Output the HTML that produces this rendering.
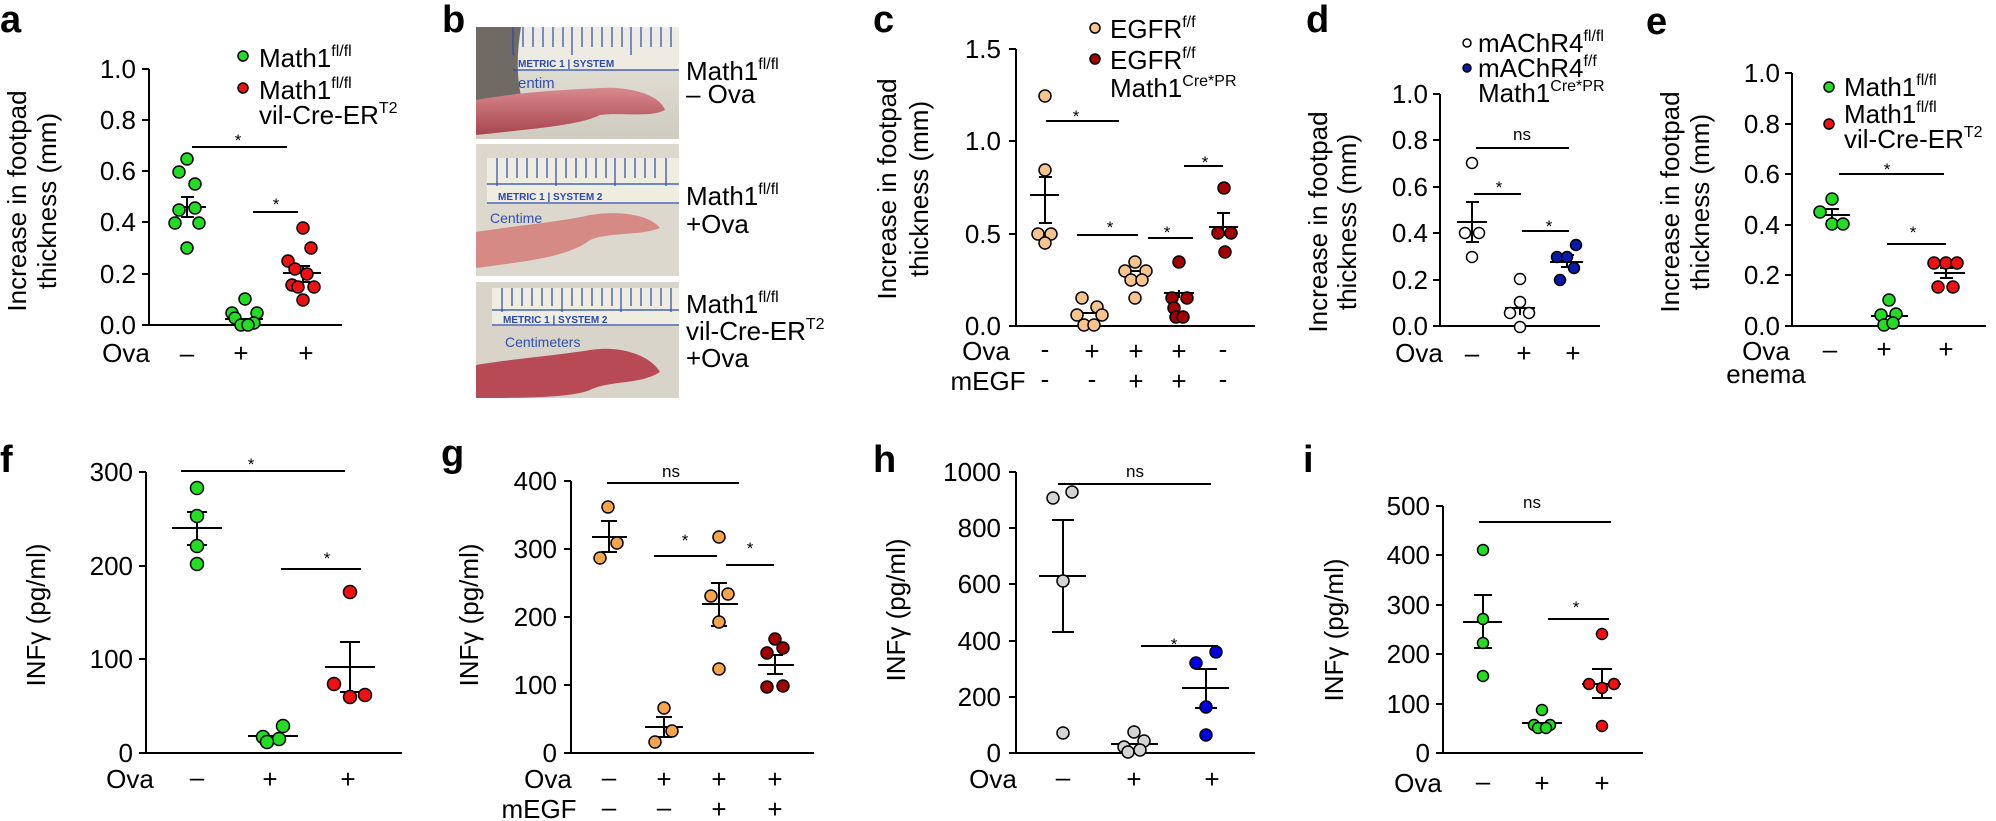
<!DOCTYPE html>
<html><head><meta charset="utf-8"><style>
html,body{margin:0;padding:0;background:#fff}
svg{display:block}
text{font-family:"Liberation Sans",Arial,sans-serif;fill:#000}
.t{font-size:26px}
.l{font-size:26px}
.s{font-size:17px}
.L{font-size:38px;font-weight:bold}
</style></head><body>
<svg width="1996" height="821" viewBox="0 0 1996 821" xmlns="http://www.w3.org/2000/svg">
<defs>
<linearGradient id="bg1" x1="0" y1="0" x2="0" y2="1"><stop offset="0" stop-color="#e8e6dc"/><stop offset="1" stop-color="#cfcbc0"/></linearGradient>
<linearGradient id="ft" x1="0" y1="0" x2="0" y2="1"><stop offset="0" stop-color="#d88a8e"/><stop offset="1" stop-color="#a8454e"/></linearGradient>
</defs>
<g stroke="#000" stroke-width="2" fill="none">
<!-- axes -->
<path d="M149,69V325H342 M142,69H149 M142,120H149 M142,171H149 M142,222H149 M142,274H149 M142,325H149"/>
<path d="M1016,49V326H1255 M1009,49H1016 M1009,141H1016 M1009,234H1016 M1009,326H1016"/>
<path d="M1440,94V326H1600 M1433,94H1440 M1433,140H1440 M1433,187H1440 M1433,233H1440 M1433,280H1440 M1433,326H1440"/>
<path d="M1792,73V326H1986 M1785,73H1792 M1785,124H1792 M1785,174H1792 M1785,225H1792 M1785,275H1792 M1785,326H1792"/>
<path d="M146,472V753H402 M139,472H146 M139,566H146 M139,659H146 M139,753H146"/>
<path d="M571,481V753H814 M564,481H571 M564,549H571 M564,617H571 M564,685H571 M564,753H571"/>
<path d="M1016,472V753H1255 M1009,472H1016 M1009,528H1016 M1009,584H1016 M1009,641H1016 M1009,697H1016 M1009,753H1016"/>
<path d="M1443,506V753H1643 M1436,506H1443 M1436,555H1443 M1436,605H1443 M1436,654H1443 M1436,704H1443 M1436,753H1443"/>
<!-- sig lines -->
<path d="M192,147H287 M253,212H298"/>
<path d="M1046,121H1119 M1077,235H1138 M1148,238H1193 M1184,166H1223"/>
<path d="M1476,148H1569 M1474,194H1521 M1522,231H1569"/>
<path d="M1839,174H1944 M1887,244H1946"/>
<path d="M181,471H345 M281,569H361"/>
<path d="M607,483H739 M654,556H717 M726,565H774"/>
<path d="M1058,484H1211 M1141,646H1218"/>
<path d="M1479,522H1611 M1548,619H1609"/>
</g>
<!-- Labels -->
<text class="L" x="0" y="32">a</text>
<text class="L" x="442" y="32">b</text>
<text class="L" x="873" y="32">c</text>
<text class="L" x="1306" y="32">d</text>
<text class="L" x="1646" y="34">e</text>
<text class="L" x="0" y="472">f</text>
<text class="L" x="441" y="466">g</text>
<text class="L" x="873" y="472">h</text>
<text class="L" x="1303" y="472">i</text>
<!-- tick labels -->
<g class="t" text-anchor="end">
<text x="136" y="78">1.0</text><text x="136" y="129">0.8</text><text x="136" y="180">0.6</text><text x="136" y="231">0.4</text><text x="136" y="283">0.2</text><text x="136" y="334">0.0</text>
<text x="1001" y="58">1.5</text><text x="1001" y="150">1.0</text><text x="1001" y="243">0.5</text><text x="1001" y="335">0.0</text>
<text x="1428" y="103">1.0</text><text x="1428" y="149">0.8</text><text x="1428" y="196">0.6</text><text x="1428" y="242">0.4</text><text x="1428" y="289">0.2</text><text x="1428" y="335">0.0</text>
<text x="1780" y="82">1.0</text><text x="1780" y="133">0.8</text><text x="1780" y="183">0.6</text><text x="1780" y="234">0.4</text><text x="1780" y="284">0.2</text><text x="1780" y="335">0.0</text>
<text x="133" y="481">300</text><text x="133" y="575">200</text><text x="133" y="668">100</text><text x="133" y="762">0</text>
<text x="557" y="490">400</text><text x="557" y="558">300</text><text x="557" y="626">200</text><text x="557" y="694">100</text><text x="557" y="762">0</text>
<text x="1001" y="481">1000</text><text x="1001" y="537">800</text><text x="1001" y="593">600</text><text x="1001" y="650">400</text><text x="1001" y="706">200</text><text x="1001" y="762">0</text>
<text x="1430" y="515">500</text><text x="1430" y="564">400</text><text x="1430" y="614">300</text><text x="1430" y="663">200</text><text x="1430" y="713">100</text><text x="1430" y="762">0</text>
</g>
<!-- axis titles -->
<g class="l" text-anchor="middle">
<text transform="translate(26,201) rotate(-90)">Increase in footpad</text>
<text transform="translate(56,201) rotate(-90)">thickness (mm)</text>
<text transform="translate(896,189) rotate(-90)">Increase in footpad</text>
<text transform="translate(928,189) rotate(-90)">thickness (mm)</text>
<text transform="translate(1327,222) rotate(-90)">Increase in footpad</text>
<text transform="translate(1356,222) rotate(-90)">thickness (mm)</text>
<text transform="translate(1679,202) rotate(-90)">Increase in footpad</text>
<text transform="translate(1709,202) rotate(-90)">thickness (mm)</text>
<text transform="translate(45,615) rotate(-90)">INFγ (pg/ml)</text>
<text transform="translate(478,615) rotate(-90)">INFγ (pg/ml)</text>
<text transform="translate(905,610) rotate(-90)">INFγ (pg/ml)</text>
<text transform="translate(1343,630) rotate(-90)">INFγ (pg/ml)</text>
</g>
<!-- x category labels -->
<g class="t" text-anchor="middle">
<text x="126" y="362">Ova</text><text x="187" y="362">–</text><text x="241" y="362">+</text><text x="306" y="362">+</text>
<text x="986" y="360">Ova</text><text x="1045" y="358">-</text><text x="1092" y="360">+</text><text x="1136" y="360">+</text><text x="1179" y="360">+</text><text x="1223" y="358">-</text>
<text x="988" y="390">mEGF</text><text x="1045" y="388">-</text><text x="1092" y="388">-</text><text x="1136" y="390">+</text><text x="1179" y="390">+</text><text x="1223" y="388">-</text>
<text x="1419" y="362">Ova</text><text x="1472" y="362">–</text><text x="1524" y="362">+</text><text x="1573" y="362">+</text>
<text x="1766" y="360">Ova</text><text x="1830" y="358">–</text><text x="1884" y="358">+</text><text x="1946" y="358">+</text>
<text x="1766" y="383">enema</text>
<text x="130" y="788">Ova</text><text x="197" y="786">–</text><text x="270" y="788">+</text><text x="348" y="788">+</text>
<text x="548" y="788">Ova</text><text x="609" y="786">–</text><text x="664" y="788">+</text><text x="719" y="788">+</text><text x="775" y="788">+</text>
<text x="539" y="818">mEGF</text><text x="609" y="816">–</text><text x="664" y="816">–</text><text x="719" y="818">+</text><text x="775" y="818">+</text>
<text x="993" y="788">Ova</text><text x="1063" y="786">–</text><text x="1134" y="788">+</text><text x="1212" y="788">+</text>
<text x="1418" y="792">Ova</text><text x="1483" y="790">–</text><text x="1542" y="792">+</text><text x="1602" y="792">+</text>
</g>
<!-- stars / ns -->
<g class="s" text-anchor="middle">
<text x="238" y="146">*</text><text x="276" y="210">*</text>
<text x="1076" y="122">*</text><text x="1110" y="233">*</text><text x="1167" y="238">*</text><text x="1205" y="168">*</text>
<text x="1522" y="140">ns</text><text x="1499" y="193">*</text><text x="1549" y="232">*</text>
<text x="1887" y="175">*</text><text x="1913" y="238">*</text>
<text x="251" y="470">*</text><text x="327" y="564">*</text>
<text x="671" y="477">ns</text><text x="685" y="546">*</text><text x="750" y="554">*</text>
<text x="1135" y="477">ns</text><text x="1174" y="650">*</text>
<text x="1532" y="508">ns</text><text x="1576" y="613">*</text>
</g>
<!-- legends -->
<g class="l">
<text x="259" y="67">Math1<tspan dy="-11" font-size="16">fl/fl</tspan></text>
<text x="259" y="99">Math1<tspan dy="-11" font-size="16">fl/fl</tspan></text>
<text x="259" y="124">vil-Cre-ER<tspan dy="-11" font-size="16">T2</tspan></text>
<text x="1110" y="38">EGFR<tspan dy="-11" font-size="16">f/f</tspan></text>
<text x="1110" y="69">EGFR<tspan dy="-11" font-size="16">f/f</tspan></text>
<text x="1110" y="97">Math1<tspan dy="-11" font-size="16">Cre*PR</tspan></text>
<text x="1478" y="52">mAChR4<tspan dy="-11" font-size="16">fl/fl</tspan></text>
<text x="1478" y="77">mAChR4<tspan dy="-11" font-size="16">f/f</tspan></text>
<text x="1478" y="102">Math1<tspan dy="-11" font-size="16">Cre*PR</tspan></text>
<text x="1844" y="96">Math1<tspan dy="-11" font-size="16">fl/fl</tspan></text>
<text x="1844" y="123">Math1<tspan dy="-11" font-size="16">fl/fl</tspan></text>
<text x="1844" y="148">vil-Cre-ER<tspan dy="-11" font-size="16">T2</tspan></text>
<text x="686" y="80">Math1<tspan dy="-11" font-size="16">fl/fl</tspan></text>
<text x="686" y="103">– Ova</text>
<text x="686" y="205">Math1<tspan dy="-11" font-size="16">fl/fl</tspan></text>
<text x="686" y="233">+Ova</text>
<text x="686" y="313">Math1<tspan dy="-11" font-size="16">fl/fl</tspan></text>
<text x="686" y="340">vil-Cre-ER<tspan dy="-11" font-size="16">T2</tspan></text>
<text x="686" y="367">+Ova</text>
</g>
<!-- photos -->
<g>
<rect x="476" y="27" width="203" height="112" fill="url(#bg1)"/>
<rect x="505" y="27" width="174" height="43" fill="#eeece2"/>
<path d="M476,27h45c-5,30 -5,60 5,85l-50,10z" fill="#6f6a64"/>
<g stroke="#2a48b0" stroke-width="1.2"><path d="M513,27v28M523,27v20M533,27v20M543,27v20M553,27v20M563,27v20M572,27v28M582,27v20M592,27v20M602,27v20M612,27v20M622,27v20M631,27v28M641,27v20M651,27v20M661,27v20M671,27v20M513,70H679"/></g>
<text x="518" y="67" font-size="10" fill="#2a48b0" style="fill:#2a48b0;font-weight:bold">METRIC  1 | SYSTEM</text>
<text x="518" y="88" font-size="15" style="fill:#3050b0">entim</text>
<path d="M476,100 C520,92 560,90 600,88 C630,86 660,95 665,110 C650,118 620,112 600,115 C580,125 540,128 476,135z" fill="url(#ft)"/>
<rect x="476" y="144" width="203" height="132" fill="#dcd8ce"/>
<rect x="487" y="158" width="192" height="46" fill="#efece0"/>
<g stroke="#2a48b0" stroke-width="1.2"><path d="M497,158v28M507,158v20M517,158v20M527,158v20M537,158v20M547,158v20M556,158v28M566,158v20M576,158v20M586,158v20M596,158v20M606,158v20M615,158v28M625,158v20M635,158v20M645,158v20M655,158v20M666,158v28M487,184H679M487,203H679"/></g>
<text x="498" y="200" font-size="10" style="fill:#2a48b0;font-weight:bold">METRIC  1 | SYSTEM  2</text>
<text x="490" y="223" font-size="14" style="fill:#3050b0">Centime</text>
<path d="M476,232 C520,225 560,222 590,215 C620,210 650,215 660,228 C640,236 610,232 590,240 C570,255 540,260 476,268z" fill="#d58a86"/>
<rect x="476" y="282" width="203" height="116" fill="#d8d4ca"/>
<rect x="492" y="288" width="187" height="38" fill="#efece0"/>
<g stroke="#2a48b0" stroke-width="1.2"><path d="M502,288v24M512,288v18M522,288v18M532,288v18M542,288v18M552,288v18M562,288v24M572,288v18M582,288v18M592,288v18M602,288v18M612,288v18M621,288v24M631,288v18M641,288v18M651,288v18M661,288v18M671,288v24M492,310H679M492,325H679"/></g>
<text x="503" y="323" font-size="10" style="fill:#2a48b0;font-weight:bold">METRIC  1 | SYSTEM  2</text>
<text x="505" y="347" font-size="14" style="fill:#3050b0">Centimeters</text>
<path d="M476,365 C520,358 560,355 590,350 C620,345 650,355 660,372 C640,385 610,380 590,390 C570,398 520,398 476,398z" fill="#b84a55"/>
</g>
<!-- data: mean/sem -->
<g stroke="#000" stroke-width="2" fill="none">
<path d="M181,207H206 M187,197V217 M181,197H194 M181,217H194"/>
<path d="M225,319H263"/>
<path d="M283,273H321 M303,266V282 M297,266H310 M297,282H310"/>
<path d="M1030,195H1059 M1045,177V223 M1039,177H1052 M1039,223H1052"/>
<path d="M1077,313H1107"/><path d="M1121,271H1150"/><path d="M1164,293H1194 M1179,290V298"/>
<path d="M1209,227H1238 M1223,213V235 M1217,213H1230 M1217,235H1230"/>
<path d="M1457,222H1487 M1472,202V242 M1466,202H1479 M1466,242H1479"/>
<path d="M1505,308H1535 M1520,300V315 M1514,300H1526"/>
<path d="M1550,262H1583 M1567,255V267 M1561,255H1574 M1561,267H1574"/>
<path d="M1814,215H1850 M1832,209V221 M1826,209H1839 M1826,221H1839"/>
<path d="M1871,316H1908"/>
<path d="M1934,273H1965 M1946,268V278 M1940,268H1953 M1940,278H1953"/>
<path d="M172,528H222 M197,512V545 M187,512H207 M187,545H207"/>
<path d="M248,736H298"/>
<path d="M325,667H375 M350,642V692 M340,642H360 M340,692H360"/>
<path d="M592,537H627 M609,521V552 M601,521H617 M601,552H617"/>
<path d="M645,727H683 M664,717V737 M656,717H672 M656,737H672"/>
<path d="M702,604H738 M719,583V626 M711,583H727 M711,626H727"/>
<path d="M758,665H794 M775,655V674 M767,655H783 M767,674H783"/>
<path d="M1039,576H1086 M1063,520V632 M1052,520H1074 M1052,632H1074"/>
<path d="M1111,744H1158"/>
<path d="M1182,688H1229 M1206,669V708 M1195,669H1217 M1195,708H1217"/>
<path d="M1463,622H1502 M1483,595V648 M1474,595H1492 M1474,648H1492"/>
<path d="M1522,723H1562"/>
<path d="M1582,684H1621 M1602,669V698 M1592,669H1612 M1592,698H1612"/>
</g>
<g stroke="#000" stroke-width="1.5">
<!-- legend dots -->
<circle cx="243" cy="56" r="5" fill="#22dd22"/><circle cx="243" cy="88" r="5" fill="#ee1111"/>
<circle cx="1095" cy="28" r="5" fill="#f7c48e"/><circle cx="1095" cy="59" r="5" fill="#a30000"/>
<circle cx="1467" cy="43" r="4" fill="#fff"/><circle cx="1467" cy="68" r="4" fill="#0a1aa8"/>
<circle cx="1829" cy="87" r="5" fill="#22dd22"/><circle cx="1829" cy="124" r="5" fill="#ee1111"/>
<!-- a -->
<g fill="#22dd22">
<circle cx="187" cy="159" r="6"/><circle cx="179" cy="172" r="6"/><circle cx="195" cy="184" r="6"/><circle cx="179" cy="210" r="6"/><circle cx="195" cy="208" r="6"/><circle cx="175" cy="223" r="6"/><circle cx="199" cy="223" r="6"/><circle cx="187" cy="248" r="6"/>
<circle cx="245" cy="299" r="6"/><circle cx="232" cy="313" r="6"/><circle cx="257" cy="313" r="6"/><circle cx="235" cy="318" r="6"/><circle cx="254" cy="323" r="6"/><circle cx="241" cy="325" r="6"/><circle cx="248" cy="325" r="6"/>
</g>
<g fill="#ee1111">
<circle cx="303" cy="228" r="6"/><circle cx="311" cy="248" r="6"/><circle cx="288" cy="261" r="6"/><circle cx="295" cy="269" r="6"/><circle cx="307" cy="274" r="6"/><circle cx="292" cy="285" r="6"/><circle cx="314" cy="287" r="6"/><circle cx="298" cy="287" r="6"/><circle cx="303" cy="300" r="6"/>
</g>
<!-- c -->
<g fill="#f7c48e">
<circle cx="1045" cy="96" r="6"/><circle cx="1045" cy="170" r="6"/><circle cx="1038" cy="234" r="6"/><circle cx="1051" cy="234" r="6"/><circle cx="1045" cy="243" r="6"/>
<circle cx="1082" cy="298" r="6"/><circle cx="1097" cy="307" r="6"/><circle cx="1077" cy="315" r="6"/><circle cx="1102" cy="315" r="6"/><circle cx="1084" cy="325" r="6"/><circle cx="1094" cy="325" r="6"/>
<circle cx="1135" cy="262" r="6"/><circle cx="1125" cy="271" r="6"/><circle cx="1146" cy="271" r="6"/><circle cx="1131" cy="280" r="6"/><circle cx="1142" cy="280" r="6"/><circle cx="1135" cy="298" r="6"/>
</g>
<g fill="#a30000">
<circle cx="1179" cy="262" r="6"/><circle cx="1172" cy="298" r="6"/><circle cx="1187" cy="298" r="6"/><circle cx="1174" cy="308" r="6"/><circle cx="1176" cy="317" r="6"/><circle cx="1183" cy="317" r="6"/>
<circle cx="1224" cy="188" r="6"/><circle cx="1218" cy="233" r="6"/><circle cx="1231" cy="233" r="6"/><circle cx="1225" cy="252" r="6"/>
</g>
<!-- d -->
<g fill="#fff">
<circle cx="1472" cy="163" r="5.5"/><circle cx="1465" cy="233" r="5.5"/><circle cx="1479" cy="233" r="5.5"/><circle cx="1472" cy="257" r="5.5"/>
<circle cx="1520" cy="279" r="5.5"/><circle cx="1520" cy="302" r="5.5"/><circle cx="1510" cy="313" r="5.5"/><circle cx="1529" cy="313" r="5.5"/><circle cx="1520" cy="327" r="5.5"/>
</g>
<g fill="#0a1aa8">
<circle cx="1576" cy="245" r="5.5"/><circle cx="1557" cy="257" r="5.5"/><circle cx="1567" cy="257" r="5.5"/><circle cx="1574" cy="268" r="5.5"/><circle cx="1560" cy="280" r="5.5"/>
</g>
<!-- e -->
<g fill="#22dd22">
<circle cx="1832" cy="199" r="6"/><circle cx="1820" cy="212" r="6"/><circle cx="1832" cy="224" r="6"/><circle cx="1843" cy="224" r="6"/>
<circle cx="1889" cy="300" r="6"/><circle cx="1881" cy="315" r="6"/><circle cx="1896" cy="314" r="6"/><circle cx="1884" cy="325" r="6"/><circle cx="1893" cy="323" r="6"/>
</g>
<g fill="#ee1111">
<circle cx="1934" cy="263" r="6"/><circle cx="1946" cy="263" r="6"/><circle cx="1957" cy="263" r="6"/><circle cx="1938" cy="287" r="6"/><circle cx="1953" cy="287" r="6"/>
</g>
<!-- f -->
<g fill="#22dd22">
<circle cx="197" cy="488" r="6.5"/><circle cx="197" cy="516" r="6.5"/><circle cx="197" cy="546" r="6.5"/><circle cx="197" cy="564" r="6.5"/>
<circle cx="283" cy="726" r="6.5"/><circle cx="263" cy="737" r="6.5"/><circle cx="279" cy="739" r="6.5"/><circle cx="267" cy="742" r="6.5"/>
</g>
<g fill="#ee1111">
<circle cx="350" cy="592" r="6.5"/><circle cx="334" cy="684" r="6.5"/><circle cx="350" cy="697" r="6.5"/><circle cx="365" cy="695" r="6.5"/>
</g>
<!-- g -->
<g fill="#f7a54a">
<circle cx="608" cy="507" r="6"/><circle cx="617" cy="543" r="6"/><circle cx="600" cy="558" r="6"/>
<circle cx="664" cy="708" r="6"/><circle cx="672" cy="731" r="6"/><circle cx="655" cy="742" r="6"/>
<circle cx="719" cy="537" r="6"/><circle cx="711" cy="596" r="6"/><circle cx="728" cy="594" r="6"/><circle cx="719" cy="622" r="6"/><circle cx="719" cy="669" r="6"/>
</g>
<g fill="#a30000">
<circle cx="775" cy="639" r="6"/><circle cx="767" cy="653" r="6"/><circle cx="783" cy="648" r="6"/><circle cx="767" cy="687" r="6"/><circle cx="783" cy="686" r="6"/>
</g>
<!-- h -->
<g fill="#d4d4d4">
<circle cx="1053" cy="498" r="6"/><circle cx="1072" cy="492" r="6"/><circle cx="1063" cy="581" r="6"/><circle cx="1063" cy="733" r="6"/>
<circle cx="1134" cy="732" r="6"/><circle cx="1144" cy="741" r="6"/><circle cx="1124" cy="747" r="6"/><circle cx="1128" cy="752" r="6"/><circle cx="1140" cy="750" r="6"/>
</g>
<g fill="#0000e6">
<circle cx="1216" cy="652" r="6"/><circle cx="1196" cy="663" r="6"/><circle cx="1206" cy="707" r="6"/><circle cx="1206" cy="735" r="6"/>
</g>
<!-- i -->
<g fill="#22dd22">
<circle cx="1483" cy="550" r="5.5"/><circle cx="1483" cy="619" r="5.5"/><circle cx="1483" cy="643" r="5.5"/><circle cx="1483" cy="676" r="5.5"/>
<circle cx="1542" cy="710" r="5.5"/><circle cx="1534" cy="725" r="5.5"/><circle cx="1550" cy="725" r="5.5"/><circle cx="1538" cy="728" r="5.5"/><circle cx="1546" cy="728" r="5.5"/>
</g>
<g fill="#ee1111">
<circle cx="1602" cy="634" r="5.5"/><circle cx="1589" cy="684" r="5.5"/><circle cx="1614" cy="684" r="5.5"/><circle cx="1602" cy="688" r="5.5"/><circle cx="1602" cy="726" r="5.5"/>
</g>
</g>
</svg>
</body></html>
